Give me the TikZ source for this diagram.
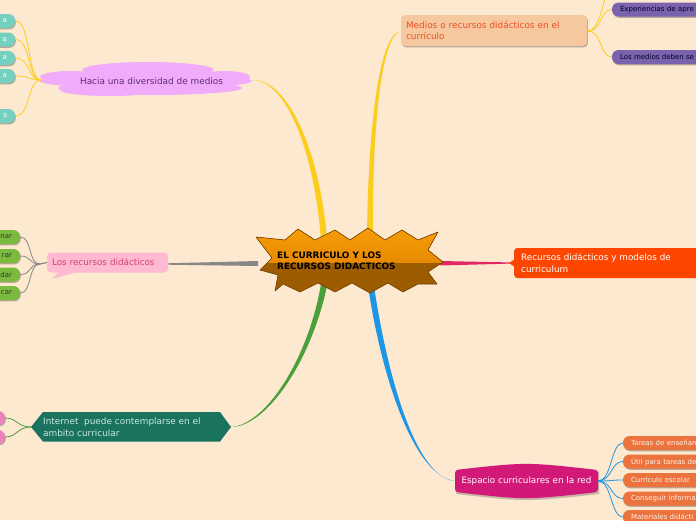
\documentclass[tikz,border=0pt]{standalone}
\usepackage{fontspec}
\setmainfont{DejaVu Sans}
\usetikzlibrary{shadows}
\definecolor{bg}{RGB}{253,232,208}
\definecolor{yel}{RGB}{250,205,30}
\definecolor{gry}{RGB}{135,135,135}
\definecolor{crim}{RGB}{225,40,100}
\definecolor{grn}{RGB}{75,160,60}
\definecolor{blu}{RGB}{30,150,230}
\definecolor{lav}{RGB}{240,172,250}
\definecolor{lavtxt}{RGB}{95,45,110}
\definecolor{teal}{RGB}{118,208,192}
\definecolor{lime}{RGB}{122,187,62}
\definecolor{peach}{RGB}{245,200,160}
\definecolor{peachtxt}{RGB}{238,80,35}
\definecolor{purp}{RGB}{122,98,172}
\definecolor{redor}{RGB}{255,70,0}
\definecolor{pinkb}{RGB}{255,185,210}
\definecolor{pinktxt}{RGB}{205,65,115}
\definecolor{dteal}{RGB}{25,115,95}
\definecolor{dtealtxt}{RGB}{200,235,220}
\definecolor{mag}{RGB}{210,25,120}
\definecolor{oran}{RGB}{236,115,62}
\definecolor{pnk}{RGB}{235,130,185}
\definecolor{stardark}{RGB}{158,92,0}
\definecolor{starlight}{RGB}{248,158,8}
\definecolor{starmid}{RGB}{232,138,0}
\definecolor{starline}{RGB}{110,62,0}
\tikzset{
  shad/.style={drop shadow={shadow xshift=0.8pt,shadow yshift=-1.3pt,opacity=0.28,fill=black}},
  leafbox/.style={shad,rounded corners=6.5pt,minimum height=14pt,inner ysep=0pt,inner xsep=8pt,font=\fontsize{7}{8}\selectfont},
  thin/.style={line width=0.8pt},
}
\begin{document}
\begin{tikzpicture}[x=1pt,y=-1pt]
\fill[bg] (0,0) rectangle (696,520);
\useasboundingbox (0,0) rectangle (696,520);

% ---------- main tapered branches ----------
\fill[yel] (321,240) .. controls (314,150) and (286,80) .. (252,80) .. controls (287,78) and (320,150) .. (327,240) -- cycle;
\fill[yel] (367,240) .. controls (368,120) and (380,33) .. (401,31) .. controls (382,35) and (372,120) .. (373,240) -- cycle;
\fill[gry] (258,261) -- (168,263.3) -- (168,264.7) -- (258,266) -- cycle;
\fill[crim] (440,261) -- (514,262.5) -- (514,263.5) -- (440,265.5) -- cycle;
\fill[grn] (321,284) .. controls (308,360) and (265,425) .. (231,427) .. controls (266,427) and (311,362) .. (327,286) -- cycle;
\fill[blu] (368,286) .. controls (382,380) and (415,478) .. (456,481) .. controls (417,480) and (388,380) .. (374,286) -- cycle;

% ---------- central star ----------
\fill[stardark] (256,237) -- (285,240) -- (298,229) -- (315,240) -- (335,230) -- (350,240) -- (368,228) -- (385,240) -- (402,230) -- (418,240) -- (438,232) -- (428,250) -- (443,262) -- (428,272) -- (437,284) -- (418,284) -- (403,292) -- (388,283) -- (370,293) -- (352,283) -- (335,292) -- (318,283) -- (300,292) -- (283,284) -- (275,291) -- (278,275) -- (260,270) -- (272,258) -- cycle;
\begin{scope}
\clip (256,237) -- (285,240) -- (298,229) -- (315,240) -- (335,230) -- (350,240) -- (368,228) -- (385,240) -- (402,230) -- (418,240) -- (438,232) -- (428,250) -- (443,262) -- (428,272) -- (437,284) -- (418,284) -- (403,292) -- (388,283) -- (370,293) -- (352,283) -- (335,292) -- (318,283) -- (300,292) -- (283,284) -- (275,291) -- (278,275) -- (260,270) -- (272,258) -- cycle;
\shade[top color=starlight,bottom color=starmid] (250,226) rectangle (450,262.5);
\end{scope}
\draw[starline,line width=0.6pt,line join=round] (256,237) -- (285,240) -- (298,229) -- (315,240) -- (335,230) -- (350,240) -- (368,228) -- (385,240) -- (402,230) -- (418,240) -- (438,232) -- (428,250) -- (443,262) -- (428,272) -- (437,284) -- (418,284) -- (403,292) -- (388,283) -- (370,293) -- (352,283) -- (335,292) -- (318,283) -- (300,292) -- (283,284) -- (275,291) -- (278,275) -- (260,270) -- (272,258) -- cycle;
\node[anchor=west,align=left,inner sep=0pt,font=\bfseries\fontsize{8.9}{11.5}\selectfont] (center) at (277,261) {EL CURRICULO Y LOS\\RECURSOS DIDACTICOS};

% ---------- cloud: Hacia una diversidad de medios ----------
\fill[lav] (148,70) ellipse [x radius=66pt,y radius=8pt];
\fill[lav] (146,81) ellipse [x radius=106pt,y radius=7.5pt];
\fill[lav] (150,88) ellipse [x radius=92pt,y radius=7pt];
\fill[lav] (70,77) ellipse [x radius=30pt,y radius=6pt];
\fill[lav] (225,77) ellipse [x radius=25pt,y radius=6pt];
\fill[lav] (110,90) ellipse [x radius=50pt,y radius=6pt];
\node[font=\fontsize{8.9}{10}\selectfont,text=lavtxt,inner sep=0pt] (hacia) at (151.5,81.5) {Hacia una diversidad de medios};
\coordinate (cloudL) at (41,80);

\node[leafbox,fill=teal,text=white,minimum width=75pt,text width=59pt,align=right] (t1) at (-22.5,21) {a};
\node[leafbox,fill=teal,text=white,minimum width=75pt,text width=59pt,align=right] (t2) at (-22.5,39.5) {a};
\node[leafbox,fill=teal,text=white,minimum width=75pt,text width=59pt,align=right] (t3) at (-22.5,58) {a};
\node[leafbox,fill=teal,text=white,minimum width=75pt,text width=59pt,align=right] (t4) at (-22.5,76) {a};
\node[leafbox,fill=teal,text=white,minimum width=75pt,text width=59pt,align=right] (t5) at (-22.5,116) {s};
\foreach \t in {t1,t2,t3,t4,t5}
  \draw[yel,thin] (cloudL) .. controls +(-14,0) and +(16,0) .. (\t.east);

% ---------- Medios o recursos didácticos en el currículo ----------
\node[shad,fill=peach,rounded corners=4pt,minimum width=186pt,minimum height=31pt,text width=176pt,inner xsep=5pt,align=left,text=peachtxt,font=\fontsize{8.9}{11.5}\selectfont] (medios) at (494,30.5) {Medios o recursos didácticos en el\\currículo};
\node[leafbox,fill=purp,text={black!85!blue},minimum width=108pt,text width=92pt,align=left] (p1) at (666,9.5) {Experiencias de apre};
\node[leafbox,fill=purp,text={black!85!blue},minimum width=108pt,text width=92pt,align=left] (p2) at (666,57) {Los medios deben se};
\coordinate (pup) at (612,-14);
\coordinate (medR) at (588,31);
\draw[yel,thin] (medR) .. controls +(14,0) and +(-12,0) .. (p1.west);
\draw[yel,thin] (medR) .. controls +(14,0) and +(-12,0) .. (p2.west);
\draw[yel,thin] (medR) .. controls +(14,0) and +(-8,0) .. (pup);

% ---------- Recursos didácticos y modelos de curriculum ----------
\fill[redor] (509,263) -- (515,259) -- (515,267) -- cycle;
\node[fill=redor,rounded corners=3pt,minimum width=190pt,minimum height=30pt,text width=176pt,inner xsep=7pt,align=left,text=white,font=\fontsize{8.8}{12}\selectfont,anchor=west] (modelos) at (514,263) {Recursos didácticos y modelos de\\curriculum};

% ---------- Los recursos didácticos ----------
\fill[pinkb] (60,271) -- (80,271) -- (52,279) -- cycle;
\node[fill=pinkb,rounded corners=4pt,minimum width=121pt,minimum height=20pt,text width=111pt,inner xsep=5pt,align=left,text=pinktxt,font=\fontsize{8.8}{10}\selectfont] (recursos) at (107.5,262.5) {Los recursos didácticos};
\coordinate (recL) at (40,264);
\draw[gry,line width=1.2pt] (recursos.west) -- (recL);
\node[leafbox,fill=lime,text=black!80,minimum width=80pt,text width=64pt,align=right] (g1) at (-20,237) {nar};
\node[leafbox,fill=lime,text=black!80,minimum width=80pt,text width=64pt,align=right] (g2) at (-20,256) {rar};
\node[leafbox,fill=lime,text=black!80,minimum width=80pt,text width=64pt,align=right] (g3) at (-20,274.5) {dar};
\node[leafbox,fill=lime,text=black!80,minimum width=80pt,text width=64pt,align=right] (g4) at (-20,293) {car};
\foreach \g in {g1,g2,g3,g4}
  \draw[gry,thin] (recL) .. controls +(-12,0) and +(12,0) .. (\g.east);

% ---------- Internet ----------
\fill[dteal] (31,427) -- (43,412) -- (220,412) -- (231,427) -- (220,441.5) -- (43,441.5) -- cycle;
\node[anchor=west,align=left,inner sep=0pt,text=dtealtxt,font=\fontsize{8.9}{11.5}\selectfont] (internet) at (43,427) {Internet \ puede contemplarse en el\\ambito curricular};
\coordinate (intL) at (31,427);
\node[leafbox,fill=pnk,minimum width=70pt] (k1) at (-30,418) {};
\node[leafbox,fill=pnk,minimum width=70pt] (k2) at (-30,437) {};
\draw[grn,thin] (intL) .. controls +(-14,0) and +(12,0) .. (k1.east);
\draw[grn,thin] (intL) .. controls +(-14,0) and +(12,0) .. (k2.east);

% ---------- Espacio curriculares en la red ----------
\fill[black,opacity=0.22] (456,472) .. controls (527,464) .. (599,472) -- (599,494) .. controls (527,502) .. (456,494) -- cycle;
\fill[mag,rounded corners=3pt] (455,470) .. controls (526,462) .. (598,470) -- (598,492) .. controls (526,500) .. (455,492) -- cycle;
\node[text=white,inner sep=0pt,font=\fontsize{8.8}{10}\selectfont] (espacio) at (526.5,481) {Espacio curriculares en la red};
\coordinate (espR) at (598,481);
\node[leafbox,fill=oran,text={white!90!orange},minimum width=100pt,text width=84pt,align=left] (o1) at (673,443) {Tareas de enseñan};
\node[leafbox,fill=oran,text={white!90!orange},minimum width=100pt,text width=84pt,align=left] (o2) at (673,461.5) {Útil para tareas de};
\node[leafbox,fill=oran,text={white!90!orange},minimum width=100pt,text width=84pt,align=left] (o3) at (673,480) {Currículo escolar};
\node[leafbox,fill=oran,text={white!90!orange},minimum width=100pt,text width=84pt,align=left] (o4) at (673,498.5) {Conseguir informa};
\node[leafbox,fill=oran,text={white!90!orange},minimum width=100pt,text width=84pt,align=left] (o5) at (673,517) {Materiales didácti};
\foreach \o in {o1,o2,o3,o4,o5}
  \draw[blu,thin] (espR) .. controls +(14,0) and +(-12,0) .. (\o.west);
\end{tikzpicture}
\end{document}
